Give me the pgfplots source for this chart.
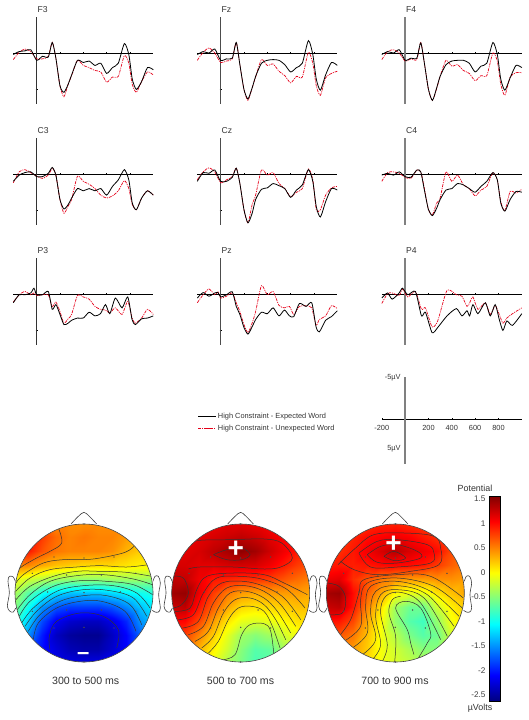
\documentclass[border=0pt]{standalone}
\usepackage{fontspec}
\setmainfont{Liberation Sans}
\usepackage{pgfplots}
\usepackage{pgfplotstable}
\pgfplotsset{compat=1.18}

\pgfplotstableread{
t e u
-200 .2 .9
-150 -.2 -.1
-100 -.3 -.55
-50 -.45 -.2
0 1 .8
50 .45 .8
100 .55 .45
134 -1.45 -1.45
165 .7 .7
200 4.5 4.5
234 5.4 6
270 4.3 4.3
300 3 3.1
350 1 1
400 1.3 1.7
450 1.1 2
500 1.7 2.4
550 1.4 2.6
600 2.8 4
650 2 3.3
700 1.4 3.2
752 -1.3 .35
790 .2 1.4
820 3.6 4.3
855 5 5.4
900 3.9 3.9
950 2 2.6
1000 2.3 3
}\tFthree
\pgfplotstableread{
t e u
-200 .2 1
-150 -.2 -.1
-100 0 -.7
-50 -.55 0
0 1 1.3
50 .8 1.1
100 .7 .8
134 -1.45 -1.45
165 1.6 1.6
200 5 5
234 6.3 6.5
270 4.8 4.8
300 3.2 3.3
350 1.4 .9
400 1 1.7
450 .9 1.5
500 1 2.5
550 1.6 3.1
600 2.6 4.1
650 2 3.2
700 1.4 3.3
752 -1.7 -.1
790 .2 1.4
820 3.6 4.5
855 5.1 5.8
900 3 3.4
950 1.3 2.8
1000 1.7 2.5
}\tFz
\pgfplotstableread{
t e u
-200 .2 .9
-150 -.2 -.2
-100 0 -.45
-50 -.45 0
0 1 1.1
50 .7 .8
100 .7 .9
134 -1.4 -1.45
165 1.4 1.4
200 5 5
234 6.5 6.5
270 4.8 4.9
300 3.2 3.2
350 1.6 1
400 1.1 1.8
450 1 1.6
500 1 2.4
550 1.4 2.8
600 2.6 3.8
650 1.8 3.1
700 1.4 3.1
752 -1.45 0
790 .2 1.1
820 3.6 4.3
855 5.1 5.8
900 3.4 3.3
950 1.7 2.7
1000 2 2.7
}\tFfour
\pgfplotstableread{
t e u
-200 1 1.2
-150 .15 -.3
-100 -.2 -.6
-50 -.3 -.2
0 .35 .3
50 .35 .6
100 -.1 .15
134 -.9 -.8
165 .15 .15
200 3.5 3.5
234 4.8 5.4
270 4.2 4.4
300 3.3 3.5
350 2 .3
400 2.3 1
450 2 1.4
500 2.3 2
550 2 2.9
600 2.9 3.3
650 1.7 3
700 .8 2.3
752 -.6 .9
790 .8 2
820 4 4.2
855 4.9 4.9
900 3.3 3.3
950 2.3 2.3
1000 2.9 2.9
}\tCthree
\pgfplotstableread{
t e u
-200 1 .8
-150 -.2 -.3
-100 -.1 -.85
-50 -.55 -.3
0 1 1.2
50 1 .8
100 .45 .35
134 -.8 -.85
165 1.3 1.3
200 4.9 4.9
234 6.7 6.7
270 5.4 4.2
300 3.5 2.9
350 2.1 -.55
400 1.9 .15
450 1.3 -.2
500 1.6 1.3
550 2 2
600 3.2 3.1
650 2.2 2.5
700 1.5 2
752 -.6 -.7
790 1 .8
820 4.5 4.9
855 5.9 4.9
900 3.8 2.9
950 2 1.9
1000 2.2 1.7
}\tCz
\pgfplotstableread{
t e u
-200 .15 1
-150 -.1 -.2
-100 .15 -.3
-50 -.3 -.1
0 .35 .45
50 .45 .6
100 -.55 -.55
134 -.3 -.3
165 2.2 2
200 4.9 4.9
234 5.7 5.6
270 4.7 4
300 3.5 3.3
350 2.2 -.3
400 2 1
450 1.3 .15
500 1.5 1.5
550 2 2
600 2.5 3
650 1.7 2.2
700 1 1.7
752 -.2 -.2
790 .8 .8
820 4 3.8
855 5.1 5
900 3.5 2.4
950 2.4 2.6
1000 2.5 2.1
}\tCfour
\pgfplotstableread{
t e u
-200 1.2 1.1
-150 .1 .1
-100 .1 -.35
-50 -.15 .1
-23 -.8 -.15
0 .1 .2
50 .1 .1
100 -.35 .1
134 2.1 1.7
165 1.45 1.1
200 2.8 2.4
234 4.2 4
270 4 3.4
300 3.6 2.8
350 3.3 .2
400 3.3 .4
450 2.5 .7
500 3 1.7
547 2.7 2.1
590 1.45 2.2
627 2.7 2.6
675 .55 1.9
732 1.9 2.8
781 .4 1
818 3.5 3.3
846 4.2 4
900 3.4 3.3
950 3.3 2.1
1000 3 2.8
}\tPthree
\pgfplotstableread{
t e u
-200 .55 1.2
-150 -.2 .1
-100 .3 -.7
-50 -.15 .1
-23 -.2 -.3
0 .4 .55
50 .1 .3
100 -.3 -.15
134 1.7 1.2
165 2.8 2.4
200 4.6 4.2
234 5.5 5.3
270 4.5 4
300 3.5 2.4
350 2.5 -1.15
400 2.7 .1
450 1.9 -.35
500 3 1.55
547 2.2 1.9
590 3 1.7
627 3.1 2.8
675 1.3 1.7
732 1.7 1.6
781 1.2 1.9
818 4.5 4.3
846 5.2 3.5
900 3.6 3
950 3.1 1.6
1000 2.3 2
}\tPz
\pgfplotstableread{
t e u
-200 .55 1.3
-151 -.15 -.05
-111 .7 -.15
-51 -.15 .2
-23 -.8 -.7
23 .1 .4
88 -.35 -.35
140 3 2.1
174 2.5 1.9
231 5.3 4.5
279 4.6 3.7
359 3 -.5
439 2 .1
487 3 .3
530 2.3 1.7
553 3 1.2
581 1.45 .4
624 2.7 2.1
687 1.2 1.2
730 3 2.8
772 1.45 1.6
807 3.5 2.8
838 5 4
872 3.7 3.3
920 4.3 2.7
1000 2.7 1.9
}\tPfour

% head outline, relative to the centre of the scalp (scalp radius = 207)
\pgfplotstableread{
x y
-39 -207
-17 -230
0 -242
16 -230
38 -207
}\tNose
\pgfplotstableread{
x y
-206 -35
-212 -48
-224 -50
-228 -35
-224 0
-230 40
-222 55
-212 57
-205 45
}\tEarL
\pgfplotstableread{
x y
207 -35
213 -50
223 -50
229 -30
224 5
229 45
223 57
213 57
205 52
}\tEarR
\pgfplotstableread{
x y
0 -207
-90 -108
0 -105
90 -108
-155 -59
-52 -54
52 -54
155 -59
-109 -3
0 -1
109 -3
-155 55
-52 51
52 51
155 55
-90 105
0 103
90 105
0 207
}\tElec

\pgfplotsset{
  erp/.style={
    scale only axis, width=140pt, height=87pt,
    xmin=-200, xmax=1000, ymin=-4.95, ymax=7,
    y dir=reverse, clip=false,
    axis x line=middle, axis y line=middle,
    axis line style={-},
    x axis line style={black, line width=.7pt},
    tick style={black, line width=.5pt},
    major tick length=2pt,
    xtick={200,400,600,800}, xticklabels={},
    ytick={5}, yticklabels={},
    title style={anchor=west, at={(axis description cs:.172,1.018)}, font=\fontsize{8.6}{10}\selectfont, text=black!80, inner sep=0pt},
  },
  exp/.style={draw=black, line width=.8pt, smooth, tension=.4, mark=none},
  unx/.style={draw=red!90!blue, line width=.7pt, dash pattern=on 3pt off 1pt on 1pt off 1pt, smooth, tension=.4, mark=none},
  head/.style={
    scale only axis, width=138pt, height=138pt,
    hide axis, view={0}{90}, y dir=reverse, clip=false,
    ymin=133, ymax=547, colormap/jet,
    point meta min=-2.62, point meta max=1.56,
  },
  cont/.style={smooth, tension=.6, mark=none, draw=black!80, line width=.5pt, forget plot},
  rim/.style={smooth, tension=.55, mark=none, draw=black!75, line width=.6pt, forget plot},
  dots/.style={only marks, mark=*, mark size=.45pt, black!70, forget plot},
}
\newcommand{\erp}[6]{%
  \begin{axis}[erp, at={(#1pt,-#2pt)}, anchor=south west, title={#3},
      y axis line style={gray!#6!black, line width=#5pt}]
    \addplot[unx] table[x=t,y=u]{#4};
    \addplot[exp] table[x=t,y=e]{#4};
  \end{axis}%
}

\begin{document}
\begin{tikzpicture}[x=1pt,y=1pt]
\path (0,0) rectangle (528pt,-720pt);

\erp{13.3}{104}{F3}{\tFthree}{.9}{40}
\erp{197.3}{104}{Fz}{\tFz}{1.1}{60}
\erp{381.8}{104}{F4}{\tFfour}{1.5}{100}
\erp{13.3}{225}{C3}{\tCthree}{.9}{40}
\erp{197.3}{225}{Cz}{\tCz}{1.1}{60}
\erp{381.8}{225}{C4}{\tCfour}{1.5}{100}
\erp{13.3}{345}{P3}{\tPthree}{.9}{40}
\erp{197.3}{345}{Pz}{\tPz}{1.1}{60}
\erp{381.8}{345}{P4}{\tPfour}{1.5}{100}

% scale bar and legend
\begin{axis}[scale only axis, width=140pt, height=87pt, at={(381.8pt,-464pt)}, anchor=south west,
    xmin=-200, xmax=1000, ymin=-7, ymax=7.5, y dir=reverse, clip=false,
    axis x line=middle, axis y line=middle, axis line style={-},
    x axis line style={black, line width=.7pt},
    y axis line style={gray, line width=1.5pt},
    tick style={black, line width=.5pt}, major tick length=2pt,
    xtick={-200,200,400,600,800}, xticklabels={-200,200,400,600,800},
    ytick={-6.9,5}, yticklabels={-5µV,5µV},
    tick label style={font=\fontsize{7.4}{9}\selectfont, text=black!80},
    xticklabel style={yshift=-1.5pt},
    legend style={at={(-1.314,.614)}, anchor=north west, draw=none, fill=none,
      font=\fontsize{7.4}{9}\selectfont, text=black!80, row sep=1.2pt, inner sep=0pt},
    legend cell align=left,
  ]
  \addlegendimage{exp}
  \addlegendentry{High Constraint - Expected Word}
  \addlegendimage{unx}
  \addlegendentry{High Constraint - Unexpected Word}
\end{axis}

% ---------- 300 to 500 ms
\begin{axis}[head, at={(15pt,-662pt)}, anchor=south west, xmin=45, xmax=459]
  \addplot3[surf, shader=interp, mesh/cols=11, forget plot] coordinates {
(42,130,.45)(84,130,.45)(126,130,.45)(168,130,.45)(210,130,.45)(252,130,.45)(294,130,.45)(336,130,.45)(378,130,.45)(420,130,.45)(462,130,.45)
(42,172,.8)(84,172,.8)(126,172,.8)(168,172,.6)(210,172,.5)(252,172,.55)(294,172,.5)(336,172,.5)(378,172,.4)(420,172,.3)(462,172,.3)
(42,214,.9)(84,214,.95)(126,214,.7)(168,214,.55)(210,214,.5)(252,214,.5)(294,214,.5)(336,214,.45)(378,214,.3)(420,214,.2)(462,214,.2)
(42,256,.5)(84,256,.5)(126,256,.35)(168,256,.25)(210,256,.2)(252,256,.15)(294,256,.15)(336,256,.15)(378,256,.1)(420,256,.05)(462,256,.05)
(42,298,-.05)(84,298,-.2)(126,298,-.3)(168,298,-.4)(210,298,-.45)(252,298,-.45)(294,298,-.45)(336,298,-.4)(378,298,-.4)(420,298,-.4)(462,298,-.45)
(42,340,-.35)(84,340,-.7)(126,340,-1)(168,340,-1.2)(210,340,-1.3)(252,340,-1.3)(294,340,-1.3)(336,340,-1.2)(378,340,-1.1)(420,340,-1)(462,340,-.9)
(42,382,-.5)(84,382,-1)(126,382,-1.5)(168,382,-1.75)(210,382,-1.85)(252,382,-1.85)(294,382,-1.85)(336,382,-1.75)(378,382,-1.55)(420,382,-1.3)(462,382,-1.1)
(42,424,-.8)(84,424,-1.25)(126,424,-1.8)(168,424,-2.15)(210,424,-2.3)(252,424,-2.35)(294,424,-2.35)(336,424,-2.2)(378,424,-1.95)(420,424,-1.5)(462,424,-1.3)
(42,466,-1)(84,466,-1.5)(126,466,-2)(168,466,-2.35)(210,466,-2.5)(252,466,-2.55)(294,466,-2.55)(336,466,-2.35)(378,466,-2.1)(420,466,-1.7)(462,466,-1.4)
(42,508,-1.2)(84,508,-1.7)(126,508,-2.05)(168,508,-2.25)(210,508,-2.4)(252,508,-2.45)(294,508,-2.45)(336,508,-2.3)(378,508,-2.1)(420,508,-1.8)(462,508,-1.5)
(42,550,-1.4)(84,550,-1.8)(126,550,-2)(168,550,-2.15)(210,550,-2.2)(252,550,-2.2)(294,550,-2.2)(336,550,-2.15)(378,550,-2)(420,550,-1.8)(462,550,-1.6)
  };
  \addplot[cont] coordinates {(176,147)(185,190)(150,215)(110,235)(60,265)(48,290)};
  \addplot[cont] coordinates {(405,197)(375,218)(300,235)(250,240)(190,240)(130,250)(70,285)(48,310)};
  \addplot[cont] coordinates {(445,255)(380,262)(300,258)(230,262)(150,270)(90,295)(47,335)};
  \addplot[cont] coordinates {(455,290)(380,278)(300,275)(230,275)(160,290)(90,320)(48,360)};
  \addplot[cont] coordinates {(457,315)(400,298)(310,285)(230,288)(150,305)(90,345)(52,390)};
  \addplot[cont] coordinates {(458,345)(400,315)(320,305)(240,303)(160,320)(90,365)(58,410)};
  \addplot[cont] coordinates {(450,385)(410,340)(340,318)(250,318)(170,335)(100,385)(65,430)};
  \addplot[cont] coordinates {(440,410)(400,355)(330,333)(250,330)(170,350)(110,395)(75,440)};
  \addplot[cont] coordinates {(425,435)(390,375)(320,348)(250,348)(180,365)(120,405)(85,455)};
  \addplot[cont] coordinates {(408,455)(375,395)(305,365)(240,365)(170,385)(115,430)(100,480)};
  \addplot[cont] coordinates {(150,510)(148,470)(170,425)(240,400)(310,410)(355,450)(350,505)};
  \addplot[dots] table[x expr=\thisrow{x}+252, y expr=\thisrow{y}+340]{\tElec};
  \fill[white, even odd rule] (axis cs:30,118) rectangle (axis cs:474,562) (axis cs:252,340) circle[radius=69pt];
  \draw[black!75, line width=.6pt] (axis cs:252,340) circle[radius=69pt];
  \addplot[rim] table[x expr=\thisrow{x}+252, y expr=\thisrow{y}+340]{\tNose};
  \addplot[rim] table[x expr=\thisrow{x}+252, y expr=\thisrow{y}+340]{\tEarL};
  \addplot[rim] table[x expr=\thisrow{x}+252, y expr=\thisrow{y}+340]{\tEarR};
  \node[white, font=\bfseries\fontsize{22}{22}\selectfont] at (axis cs:250,530) {–};
\end{axis}

% ---------- 500 to 700 ms
\begin{axis}[head, at={(171.7pt,-662pt)}, anchor=south west, xmin=515, xmax=929]
  \addplot3[surf, shader=interp, mesh/cols=11, forget plot] coordinates {
(512,130,.95)(554,130,1)(596,130,1.05)(638,130,1.1)(680,130,1.15)(722,130,1.15)(764,130,1.1)(806,130,1.05)(848,130,.95)(890,130,.85)(932,130,.8)
(512,172,1)(554,172,1.05)(596,172,1.15)(638,172,1.2)(680,172,1.25)(722,172,1.3)(764,172,1.25)(806,172,1.15)(848,172,1.05)(890,172,.9)(932,172,.85)
(512,214,1.1)(554,214,1.15)(596,214,1.2)(638,214,1.3)(680,214,1.4)(722,214,1.5)(764,214,1.42)(806,214,1.25)(848,214,1.1)(890,214,.95)(932,214,.85)
(512,256,1.2)(554,256,1.2)(596,256,1.15)(638,256,1.15)(680,256,1.2)(722,256,1.22)(764,256,1.2)(806,256,1.1)(848,256,.95)(890,256,.8)(932,256,.7)
(512,298,1.3)(554,298,1.28)(596,298,1.1)(638,298,.95)(680,298,.9)(722,298,.85)(764,298,.85)(806,298,.8)(848,298,.7)(890,298,.6)(932,298,.5)
(512,340,1.42)(554,340,1.47)(596,340,1.1)(638,340,.8)(680,340,.55)(722,340,.4)(764,340,.35)(806,340,.4)(848,340,.4)(890,340,.4)(932,340,.35)
(512,382,1.25)(554,382,1.3)(596,382,.95)(638,382,.65)(680,382,.35)(722,382,.15)(764,382,.1)(806,382,.15)(848,382,.2)(890,382,.25)(932,382,.25)
(512,424,1.05)(554,424,1.02)(596,424,.75)(638,424,.4)(680,424,.1)(722,424,-.1)(764,424,-.15)(806,424,-.1)(848,424,0)(890,424,.1)(932,424,.15)
(512,466,.85)(554,466,.78)(596,466,.5)(638,466,.2)(680,466,-.1)(722,466,-.4)(764,466,-.5)(806,466,-.4)(848,466,-.2)(890,466,-.05)(932,466,0)
(512,508,.7)(554,508,.6)(596,508,.3)(638,508,.05)(680,508,-.2)(722,508,-.5)(764,508,-.7)(806,508,-.65)(848,508,-.4)(890,508,-.2)(932,508,-.1)
(512,550,.5)(554,550,.4)(596,550,.15)(638,550,-.1)(680,550,-.35)(722,550,-.55)(764,550,-.75)(806,550,-.7)(848,550,-.5)(890,550,-.3)(932,550,-.2)
  };
  \addplot[cont] coordinates {(640,225)(680,210)(725,205)(750,225)(725,240)(680,240)(640,225)};
  \addplot[cont] coordinates {(545,195)(600,182)(700,180)(792,178)(845,190)(877,235)(842,262)(792,268)(700,262)(600,262)(565,268)};
  \addplot[cont] coordinates {(516,290)(550,295)(565,340)(545,375)(518,385)};
  \addplot[cont] coordinates {(525,395)(570,385)(590,330)(620,290)(700,280)(792,285)(852,310)(922,345)};
  \addplot[cont] coordinates {(535,420)(580,405)(610,340)(650,295)(720,290)(792,300)(862,330)(915,385)};
  \addplot[cont] coordinates {(548,445)(595,425)(625,350)(665,310)(730,305)(792,320)(852,355)(902,420)};
  \addplot[cont] coordinates {(565,465)(610,440)(640,370)(680,325)(735,318)(792,335)(842,375)(887,440)};
  \addplot[cont] coordinates {(585,485)(625,455)(655,385)(690,340)(740,335)(792,355)(832,395)(872,460)};
  \addplot[cont] coordinates {(605,505)(640,470)(670,400)(705,360)(750,355)(792,375)(827,420)(857,480)};
  \addplot[cont] coordinates {(625,520)(655,485)(685,420)(715,385)(755,380)(792,395)(817,440)(840,505)};
  \addplot[cont] coordinates {(670,540)(705,525)(725,465)(750,435)(792,432)(812,455)(822,530)};
  \addplot[dots] table[x expr=\thisrow{x}+722, y expr=\thisrow{y}+340]{\tElec};
  \fill[white, even odd rule] (axis cs:500,118) rectangle (axis cs:944,562) (axis cs:722,340) circle[radius=69pt];
  \draw[black!75, line width=.6pt] (axis cs:722,340) circle[radius=69pt];
  \addplot[rim] table[x expr=\thisrow{x}+722, y expr=\thisrow{y}+340]{\tNose};
  \addplot[rim] table[x expr=\thisrow{x}+722, y expr=\thisrow{y}+340]{\tEarL};
  \addplot[rim] table[x expr=\thisrow{x}+722, y expr=\thisrow{y}+340]{\tEarR};
  \node[white, font=\bfseries\fontsize{28}{28}\selectfont] at (axis cs:707,208) {+};
\end{axis}

% ---------- 700 to 900 ms, with the colour bar
\begin{axis}[head, at={(326.3pt,-662pt)}, anchor=south west, xmin=187, xmax=601,
    colorbar,
    colorbar style={
      at={(parent axis.south west)}, anchor=south west, xshift=154.2pt, yshift=-39pt,
      scale only axis, width=11pt, height=205pt,
      ytick={-2.5,-2,-1.5,-1,-.5,0,.5,1,1.5},
      yticklabels={-2.5,-2,-1.5,-1,-0.5,0,0.5,1,1.5},
      yticklabel pos=left, ytick pos=left, major tick length=0pt,
      tick label style={font=\fontsize{8.2}{10}\selectfont, text=black!75},
    }]
  \addplot3[surf, shader=interp, mesh/cols=11, forget plot] coordinates {
(184,130,.75)(226,130,.8)(268,130,.85)(310,130,.85)(352,130,.9)(394,130,.9)(436,130,.85)(478,130,.8)(520,130,.75)(562,130,.65)(604,130,.6)
(184,172,.75)(226,172,.8)(268,172,.9)(310,172,1)(352,172,1.05)(394,172,1.1)(436,172,1.05)(478,172,.95)(520,172,.85)(562,172,.7)(604,172,.6)
(184,214,.8)(226,214,.85)(268,214,.95)(310,214,1.08)(352,214,1.2)(394,214,1.33)(436,214,1.2)(478,214,1.1)(520,214,1)(562,214,.75)(604,214,.6)
(184,256,.95)(226,256,.95)(268,256,.92)(310,256,.95)(352,256,1)(394,256,1.02)(436,256,1)(478,256,.95)(520,256,.8)(562,256,.65)(604,256,.55)
(184,298,1.1)(226,298,1.15)(268,298,.85)(310,298,.7)(352,298,.55)(394,298,.45)(436,298,.4)(478,298,.4)(520,298,.45)(562,298,.45)(604,298,.4)
(184,340,1.4)(226,340,1.45)(268,340,1)(310,340,.65)(352,340,.35)(394,340,0)(436,340,-.1)(478,340,-.1)(520,340,.1)(562,340,.25)(604,340,.35)
(184,382,1.25)(226,382,1.3)(268,382,.95)(310,382,.5)(352,382,.1)(394,382,-.4)(436,382,-.6)(478,382,-.6)(520,382,-.2)(562,382,.05)(604,382,.2)
(184,424,1)(226,424,.95)(268,424,.75)(310,424,.35)(352,424,0)(394,424,-.45)(436,424,-.7)(478,424,-.8)(520,424,-.45)(562,424,-.05)(604,424,.1)
(184,466,.75)(226,466,.7)(268,466,.55)(310,466,.25)(352,466,-.05)(394,466,-.3)(436,466,-.55)(478,466,-.7)(520,466,-.6)(562,466,-.2)(604,466,-.05)
(184,508,.55)(226,508,.5)(268,508,.4)(310,508,.2)(352,508,-.05)(394,508,-.2)(436,508,-.35)(478,508,-.5)(520,508,-.5)(562,508,-.3)(604,508,-.15)
(184,550,.4)(226,550,.35)(268,550,.3)(310,550,.15)(352,550,-.05)(394,550,-.15)(436,550,-.25)(478,550,-.3)(520,550,-.3)(562,550,-.25)(604,550,-.15)
  };
  \addplot[cont] coordinates {(360,230)(390,215)(425,235)(392,243)(360,230)};
  \addplot[cont] coordinates {(310,225)(350,200)(400,195)(460,215)(470,235)(400,250)(340,248)(310,225)};
  \addplot[cont] coordinates {(285,220)(340,185)(400,180)(490,195)(510,220)(500,250)(400,262)(320,262)(285,220)};
  \addplot[cont] coordinates {(222,255)(275,205)(330,165)(420,160)(510,170)(530,205)(525,255)(440,275)(340,285)(270,270)(230,245)};
  \addplot[cont] coordinates {(190,310)(225,320)(245,355)(235,400)(190,405)};
  \addplot[cont] coordinates {(225,470)(260,420)(285,340)(300,300)(400,285)(500,290)(598,355)};
  \addplot[cont] coordinates {(240,485)(290,440)(290,360)(310,310)(400,295)(510,320)(595,385)};
  \addplot[cont] coordinates {(265,505)(310,460)(305,380)(320,320)(400,305)(500,335)(585,410)};
  \addplot[cont] coordinates {(295,525)(335,480)(320,400)(335,335)(400,318)(490,345)(570,440)};
  \addplot[cont] coordinates {(325,540)(350,495)(335,410)(350,345)(400,330)(480,355)(550,470)};
  \addplot[cont] coordinates {(355,545)(370,495)(350,400)(365,350)(410,338)(470,370)(530,480)};
  \addplot[cont] coordinates {(392,547)(395,470)(375,400)(385,360)(410,350)};
  \addplot[cont] coordinates {(460,540)(490,490)(500,460)(470,385)(425,365)(395,385)(430,450)(440,490)(450,525)};
  \addplot[dots] table[x expr=\thisrow{x}+394, y expr=\thisrow{y}+340]{\tElec};
  \fill[white, even odd rule] (axis cs:172,118) rectangle (axis cs:616,562) (axis cs:394,340) circle[radius=69pt];
  \draw[black!75, line width=.6pt] (axis cs:394,340) circle[radius=69pt];
  \addplot[rim] table[x expr=\thisrow{x}+394, y expr=\thisrow{y}+340]{\tNose};
  \addplot[rim] table[x expr=\thisrow{x}+394, y expr=\thisrow{y}+340]{\tEarL};
  \addplot[rim] table[x expr=\thisrow{x}+394, y expr=\thisrow{y}+340]{\tEarR};
  \node[white, font=\bfseries\fontsize{28}{28}\selectfont] at (axis cs:389,195) {+};
\end{axis}

\begin{scope}[every node/.style={text=black!80, inner sep=0pt}]
  \node[font=\fontsize{10.6}{12}\selectfont] at (85.7pt,-681pt) {300 to 500 ms};
  \node[font=\fontsize{10.6}{12}\selectfont] at (240.5pt,-681pt) {500 to 700 ms};
  \node[font=\fontsize{10.6}{12}\selectfont] at (395pt,-681pt) {700 to 900 ms};
  \node[font=\fontsize{8.9}{10}\selectfont] at (475pt,-488pt) {Potential};
  \node[font=\fontsize{8.9}{10}\selectfont] at (480pt,-708pt) {µVolts};
\end{scope}
\end{tikzpicture}
\end{document}
